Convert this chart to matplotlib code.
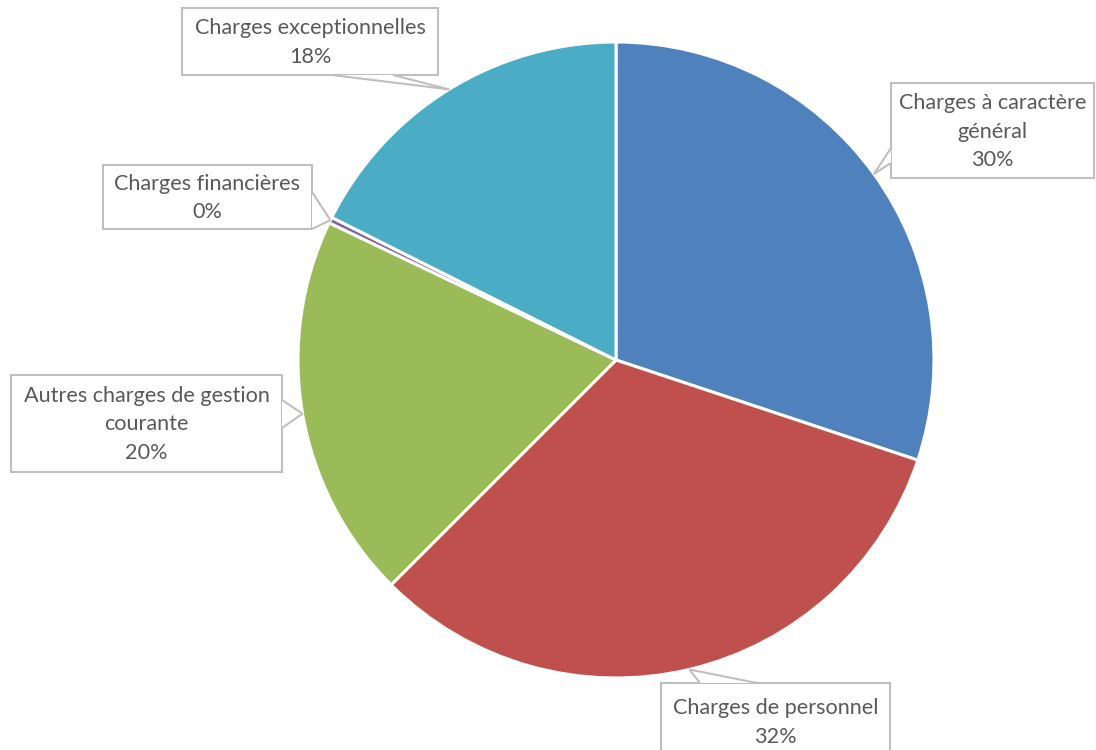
import numpy as np
import matplotlib.pyplot as plt
from matplotlib.patches import Rectangle, Polygon

categories = ['Charges à caractère\ngénéral', 'Charges de personnel',
              'Autres charges de gestion\ncourante', 'Charges financières',
              'Charges exceptionnelles']
values = [30.1, 32.4, 19.6, 0.3, 17.6]
colors = ['#4F81BD', '#C0504D', '#9BBB59', '#8064A2', '#4BACC6']

# label boxes (x0, y0, x1, y1) and the two points where the callout leaves the box
boxes = [
    ((891, 572, 1094, 667), ((891, 602), (891, 587))),
    ((661, -10, 890, 67), ((700, 67), (757, 67))),
    ((11, 278, 282, 375), ((282, 350), (282, 322))),
    ((103, 521, 312, 585), ((312, 558), (312, 521))),
    ((182, 675, 438, 742), ((332, 675), (393, 675))),
]

plt.rcParams['font.family'] = ['Lato', 'DejaVu Sans']

fig = plt.figure(figsize=(10.96, 7.5), dpi=100)
ax = fig.add_axes([0, 0, 1, 1])

cx, cy, r = 616, 390, 318
wedges, _ = ax.pie(values, colors=colors, startangle=90, counterclock=False,
                   center=(cx, cy), radius=r, frame=True,
                   wedgeprops=dict(edgecolor='white', linewidth=2.2))
ax.set_xlim(0, 1096)
ax.set_ylim(0, 750)
ax.set_aspect('equal')
ax.axis('off')

edge = '#BFBFBF'
total = sum(values)
for w, cat, v, (box, base) in zip(wedges, categories, values, boxes):
    mid = np.deg2rad((w.theta1 + w.theta2) / 2)
    tip = (cx + r * np.cos(mid), cy + r * np.sin(mid))
    x0, y0, x1, y1 = box
    ax.add_patch(Rectangle((x0, y0), x1 - x0, y1 - y0, facecolor='white',
                           edgecolor=edge, linewidth=1.5, zorder=5))
    ax.add_patch(Polygon([base[0], base[1], tip], closed=True, facecolor='white',
                         edgecolor='none', zorder=6))
    for b in base:
        ax.plot([b[0], tip[0]], [b[1], tip[1]], color=edge, lw=1.5, zorder=7,
                solid_capstyle='butt')
    pct = f'{round(v / total * 100):d}%'
    ax.text((x0 + x1) / 2, (y0 + y1) / 2 - 1, f'{cat}\n{pct}', ha='center', va='center',
            fontsize=15.6, color='#595959', linespacing=1.52, zorder=8)

fig.savefig('out.png', dpi=100)
